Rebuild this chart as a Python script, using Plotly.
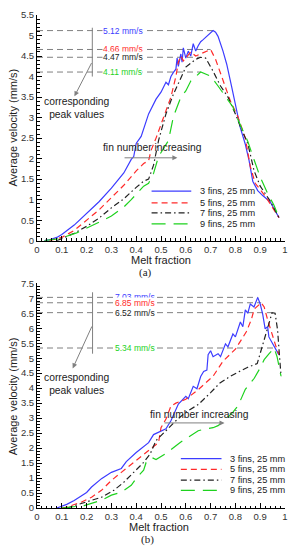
import plotly.graph_objects as go
import numpy as np

# ---------------- data: panel (a) ----------------
a3_x = [0.03,0.05,0.08,0.10,0.15,0.20,0.25,0.30,0.35,0.38,0.39,0.40,0.42,0.45,0.48,0.50,0.52,0.53,0.54,0.55,0.56,0.565,0.57,0.58,0.585,0.59,0.60,0.61,0.62,0.63,0.64,0.65,0.66,0.67,0.68,0.69,0.70,0.71,0.72,0.73,0.75,0.765,0.785,0.80,0.82,0.84,0.855,0.87,0.89,0.91,0.94,0.976]
a3_y = [0.00,0.02,0.08,0.15,0.38,0.66,0.95,1.28,1.65,1.98,2.05,2.37,2.54,3.09,3.45,3.62,3.86,3.80,4.00,4.10,4.18,4.45,4.25,4.55,4.35,4.70,4.45,4.62,4.50,4.80,4.62,4.75,4.85,4.90,4.95,5.00,5.05,5.12,5.08,4.98,4.62,4.30,3.75,3.35,2.75,2.35,1.96,1.45,1.22,1.10,0.95,0.56]

a5_x = [0.05,0.10,0.15,0.20,0.25,0.30,0.35,0.40,0.43,0.45,0.46,0.48,0.51,0.54,0.56,0.57,0.58,0.59,0.60,0.62,0.64,0.66,0.68,0.70,0.72,0.74,0.76,0.78,0.81,0.84,0.86,0.88,0.92,0.976]
a5_y = [0.00,0.08,0.25,0.50,0.75,1.05,1.35,1.70,1.88,1.95,2.20,2.50,3.00,3.50,4.00,4.35,4.50,4.38,4.45,4.60,4.50,4.55,4.60,4.66,4.42,4.06,3.74,3.40,3.02,2.50,1.81,1.40,1.09,0.56]

a7_x = [0.08,0.10,0.15,0.20,0.25,0.30,0.35,0.40,0.43,0.45,0.47,0.49,0.52,0.55,0.58,0.60,0.64,0.66,0.68,0.71,0.74,0.77,0.80,0.82,0.85,0.875,0.90,0.94,0.976]
a7_y = [0.00,0.05,0.18,0.35,0.55,0.80,1.02,1.30,1.45,1.50,1.84,2.44,3.09,3.57,3.98,4.23,4.42,4.47,4.45,4.13,3.77,3.50,3.09,2.78,2.37,1.71,1.33,0.97,0.56]

a9_x = [0.03,0.09,0.16,0.20,0.25,0.30,0.32,0.35,0.38,0.41,0.43,0.45,0.47,0.49,0.53,0.55,0.58,0.60,0.62,0.66,0.70,0.73,0.77,0.79,0.80,0.85,0.876,0.90,0.93,0.955,0.976]
a9_y = [0.00,0.05,0.19,0.30,0.45,0.60,0.68,0.82,1.00,1.20,1.33,1.40,1.64,2.05,2.44,3.02,3.50,3.65,3.89,4.11,4.01,3.77,3.45,3.26,3.09,2.42,1.96,1.55,1.15,0.87,0.56]

# ---------------- data: panel (b) ----------------
b3_x = [0.08,0.10,0.12,0.15,0.18,0.20,0.22,0.26,0.30,0.34,0.36,0.40,0.45,0.47,0.52,0.54,0.57,0.60,0.61,0.63,0.645,0.66,0.672,0.685,0.69,0.70,0.71,0.73,0.74,0.76,0.77,0.79,0.80,0.82,0.83,0.84,0.85,0.86,0.875,0.89,0.90,0.91,0.92,0.93,0.935,0.95,0.96,0.975]
b3_y = [0.00,0.05,0.12,0.25,0.40,0.52,0.70,0.98,1.19,1.32,1.55,1.85,2.18,2.45,2.64,2.91,3.47,3.73,3.65,4.06,3.98,4.39,4.56,4.60,5.12,5.25,5.05,5.15,5.05,5.48,5.38,5.81,5.71,6.21,6.05,6.61,6.50,6.81,6.71,7.03,6.81,6.47,5.98,6.05,5.71,5.48,5.32,5.12]

b5_x = [0.10,0.12,0.18,0.22,0.26,0.30,0.34,0.39,0.45,0.49,0.50,0.52,0.54,0.56,0.60,0.65,0.71,0.75,0.80,0.844,0.864,0.876,0.904,0.916,0.93,0.944,0.964,0.976]
b5_y = [0.00,0.03,0.20,0.36,0.59,0.92,1.19,1.52,1.90,2.18,2.68,2.97,3.40,3.50,3.63,3.95,4.40,4.90,5.30,5.88,6.28,6.64,6.85,6.71,6.28,5.88,5.38,5.12]

b7_x = [0.12,0.16,0.20,0.26,0.31,0.35,0.39,0.43,0.456,0.48,0.52,0.56,0.60,0.65,0.70,0.736,0.78,0.816,0.85,0.888,0.904,0.924,0.944,0.948,0.96,0.97,0.976,0.984]
b7_y = [0.00,0.10,0.20,0.36,0.59,0.86,1.19,1.52,1.80,2.25,2.58,2.91,3.20,3.45,3.85,4.16,4.40,4.56,4.70,4.82,5.28,5.81,6.44,6.52,6.50,5.95,5.28,4.40]

b9_x = [0.10,0.19,0.26,0.30,0.34,0.38,0.40,0.43,0.44,0.464,0.48,0.52,0.576,0.63,0.65,0.68,0.71,0.73,0.76,0.79,0.81,0.84,0.876,0.896,0.916,0.936,0.956,0.968,0.976,0.984]
b9_y = [0.00,0.08,0.26,0.43,0.53,0.76,0.99,1.26,1.52,1.68,1.62,1.82,2.18,2.48,2.58,2.64,2.68,2.75,2.95,3.20,3.40,3.96,4.33,4.62,4.95,5.15,5.34,5.05,4.72,4.40]

series_names = ["3 fins, 25 mm", "5 fins, 25 mm", "7 fins, 25 mm", "9 fins, 25 mm"]
peak_labels_a = ["5.12 mm/s", "4.66 mm/s", "4.47 mm/s", "4.11 mm/s"]
peak_labels_b = ["7.03 mm/s", "6.85 mm/s", "6.52 mm/s", "5.34 mm/s"]
x_ticks = [0, 0.1, 0.2, 0.3, 0.4, 0.5, 0.6, 0.7, 0.8, 0.9, 1]
x_tick_text = ["0", "0.1", "0.2", "0.3", "0.4", "0.5", "0.6", "0.7", "0.8", "0.9", "1"]

# ---------------- styles ----------------
colors = ["#3c3cff", "#ff2a2a", "#222222", "#1ed21e"]
dashes = ["solid", "6px,4px", "6px,3px,1.5px,3px", "14px,8px"]
LW = 1.2
FONT = "Liberation Sans, Arial, sans-serif"
GREY = "#808080"

fig = go.Figure()
panel_a = [(a3_x, a3_y), (a5_x, a5_y), (a7_x, a7_y), (a9_x, a9_y)]
panel_b = [(b3_x, b3_y), (b5_x, b5_y), (b7_x, b7_y), (b9_x, b9_y)]

for i, (xs, ys) in enumerate(panel_a):
    fig.add_trace(go.Scatter(x=xs, y=ys, mode="lines", name=series_names[i], showlegend=False,
                             line=dict(color=colors[i], width=LW, dash=dashes[i]),
                             xaxis="x", yaxis="y"))
for i, (xs, ys) in enumerate(panel_b):
    fig.add_trace(go.Scatter(x=xs, y=ys, mode="lines", name=series_names[i], showlegend=False,
                             line=dict(color=colors[i], width=LW, dash=dashes[i]),
                             xaxis="x2", yaxis="y2"))

shapes = []
annotations = []

def add_panel_decor(panel, labels, xr, yr, label_x, vline_x, vline_y, arrow_tail, arrow_head,
                    corr_xy, fin_text_xy, fin_arrow, leg_x0, leg_x1, leg_tx, leg_ys):
    for i, (xs, ys) in enumerate(panel):
        k = int(np.argmax(ys))
        shapes.append(dict(type="line", xref=xr, yref=yr, x0=0, x1=xs[k], y0=ys[k], y1=ys[k],
                           line=dict(color=GREY, width=1, dash="6px,4px"), layer="below"))
    for i, (xs, ys) in enumerate(panel):
        k = int(np.argmax(ys))
        annotations.append(dict(xref=xr, yref=yr, x=label_x, y=ys[k], text=labels[i], showarrow=False,
                                font=dict(family=FONT, size=8.5, color=colors[i]),
                                bgcolor="white", borderpad=0, xanchor="center", yanchor="middle"))
    shapes.append(dict(type="line", xref=xr, yref=yr, x0=vline_x, x1=vline_x, y0=vline_y[0], y1=vline_y[1],
                       line=dict(color=GREY, width=1)))
    annotations.append(dict(xref=xr, yref=yr, axref=xr, ayref=yr, x=arrow_head[0], y=arrow_head[1],
                            ax=arrow_tail[0], ay=arrow_tail[1], text="", showarrow=True,
                            arrowhead=2, arrowsize=1, arrowwidth=1, arrowcolor=GREY))
    annotations.append(dict(xref=xr, yref=yr, x=corr_xy[0], y=corr_xy[1],
                            text="corresponding<br>peak values", showarrow=False,
                            xanchor="center", yanchor="middle",
                            font=dict(family=FONT, size=10.3, color="#222"), align="center"))
    annotations.append(dict(xref=xr, yref=yr, x=fin_text_xy[0], y=fin_text_xy[1],
                            text="fin number increasing", showarrow=False,
                            xanchor="center", yanchor="middle",
                            font=dict(family=FONT, size=10.3, color="#222")))
    annotations.append(dict(xref=xr, yref=yr, axref=xr, ayref=yr, x=fin_arrow[1], y=fin_arrow[2],
                            ax=fin_arrow[0], ay=fin_arrow[2], text="", showarrow=True,
                            arrowhead=2, arrowsize=1, arrowwidth=1, arrowcolor=GREY))
    for i in range(4):
        shapes.append(dict(type="line", xref=xr, yref=yr, x0=leg_x0, x1=leg_x1, y0=leg_ys[i], y1=leg_ys[i],
                           line=dict(color=colors[i], width=LW, dash=dashes[i])))
        annotations.append(dict(xref=xr, yref=yr, x=leg_tx, y=leg_ys[i], text=series_names[i],
                                showarrow=False, xanchor="left", yanchor="middle",
                                font=dict(family=FONT, size=9.2, color="#222")))

add_panel_decor(panel_a, peak_labels_a, "x", "y", 0.346, 0.223, (4.0, 5.19),
                (0.223, 4.365), (0.151, 3.52), (0.162, 3.23), (0.466, 2.26),
                (0.347, 0.566, 2.02), 0.462, 0.622, 0.649, [1.21, 0.92, 0.68, 0.41])
add_panel_decor(panel_b, peak_labels_b, "x2", "y2", 0.395, 0.224, (5.15, 7.2),
                (0.224, 6.11), (0.144, 4.66), (0.16, 4.13), (0.656, 3.11),
                (0.508, 0.756, 2.84), 0.58, 0.744, 0.772, [1.65, 1.29, 0.93, 0.59])

for ytitle_y in (0.772, 0.227):
    annotations.append(dict(xref="paper", yref="paper", x=-0.096, y=ytitle_y, text="Average velocity (mm/s)",
                            textangle=-90, showarrow=False, xanchor="center", yanchor="middle",
                            font=dict(family=FONT, size=11, color="#222")))
for (mx, my, px_, py_, lab) in ((0.5, 0.503, 0.438, 0.477, "(a)"), (0.49, -0.039, 0.444, -0.064, "(b)")):
    annotations.append(dict(xref="paper", yref="paper", x=mx, y=my, text="Melt fraction", showarrow=False,
                            xanchor="center", yanchor="middle",
                            font=dict(family=FONT, size=11, color="#222")))
    annotations.append(dict(xref="paper", yref="paper", x=px_, y=py_, text=lab, showarrow=False,
                            xanchor="center", yanchor="middle",
                            font=dict(family="Liberation Serif, Times New Roman, serif", size=11, color="#222")))

xaxis_common = dict(range=[0, 1], tickvals=x_ticks, ticktext=x_tick_text, ticks="inside", ticklen=5,
                    tickcolor="black", showline=True, linecolor="black", linewidth=1,
                    showgrid=False, zeroline=False, tickfont=dict(family=FONT, size=9.5, color="#333"),
                    minor=dict(dtick=0.02, ticks="inside", ticklen=2.5, tickcolor="black", showgrid=False))
yaxis_common = dict(dtick=0.5, tick0=0, ticks="inside", ticklen=5, tickcolor="black", showline=True,
                    linecolor="black", linewidth=1, showgrid=False, zeroline=False,
                    tickfont=dict(family=FONT, size=9.5, color="#333"),
                    minor=dict(dtick=0.1, ticks="inside", ticklen=2.5, tickcolor="black", showgrid=False))

fig.update_layout(
    width=297, height=550,
    margin=dict(l=37, r=9, t=10, b=42),
    paper_bgcolor="white", plot_bgcolor="white",
    showlegend=False,
    xaxis=dict(domain=[0, 1], anchor="y", **xaxis_common),
    yaxis=dict(domain=[0.5422, 1], anchor="x", range=[0, 5.5], **yaxis_common),
    xaxis2=dict(domain=[0, 1], anchor="y2", **xaxis_common),
    yaxis2=dict(domain=[0, 0.4558], anchor="x2", range=[0, 7.5], **yaxis_common),
    shapes=shapes,
    annotations=annotations,
)

fig.write_html("out.html", config={"displayModeBar": False},
               post_script="document.body.style.margin='0';document.body.style.overflow='hidden';")
